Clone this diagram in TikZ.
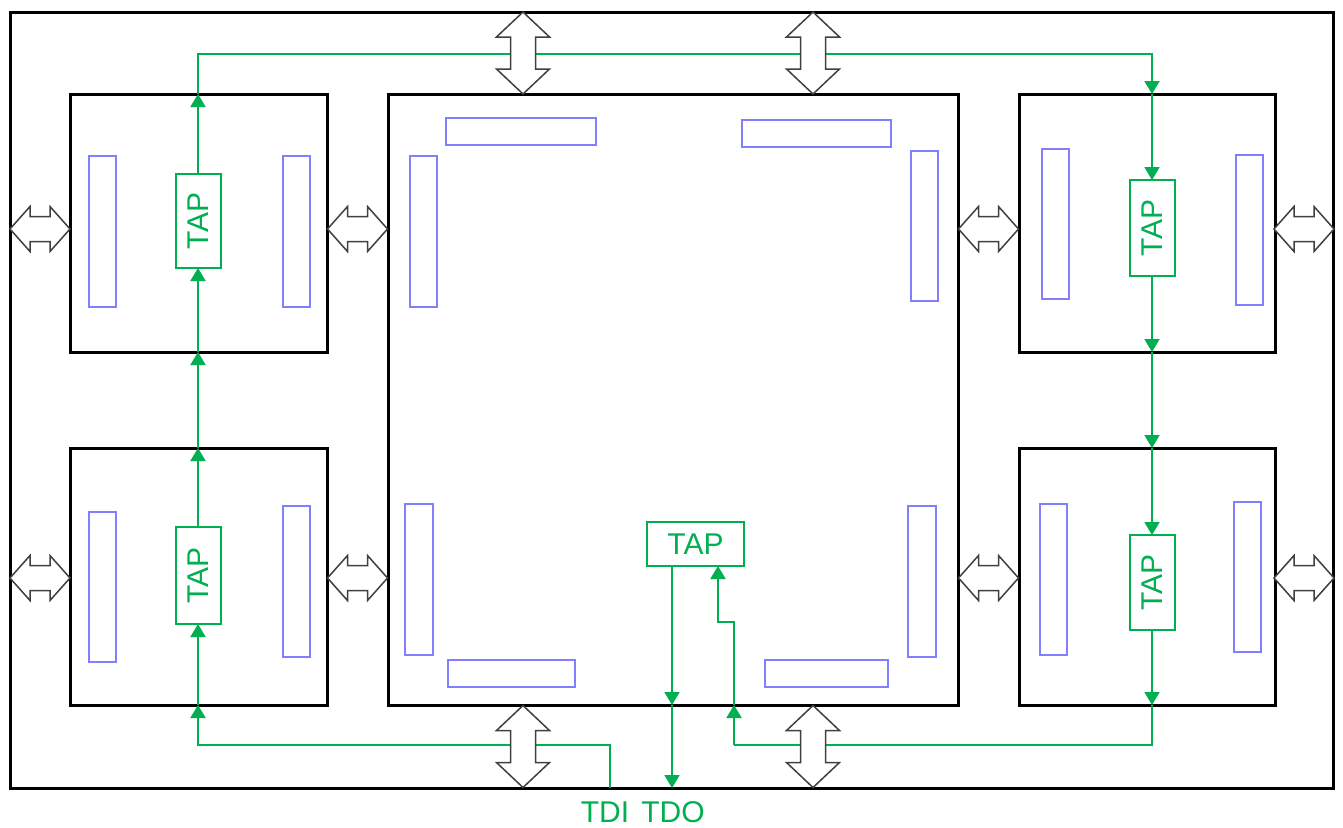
\documentclass[tikz,border=0pt]{standalone}
\usepackage{fontspec}
\setmainfont{Liberation Sans}
\usetikzlibrary{arrows.meta}
\definecolor{grn}{RGB}{0,176,80}
\definecolor{blu}{RGB}{128,128,255}
\definecolor{gry}{RGB}{64,64,64}
\tikzset{
  blk/.style={draw=black, line width=3pt, inner sep=0pt, outer sep=0pt},
  tapbox/.style={draw=grn, line width=2pt, text=grn, font=\fontsize{30}{30}\selectfont, inner sep=0pt, outer sep=0pt},
  lbl/.style={text=grn, font=\fontsize{30}{30}\selectfont, inner sep=0pt},
  bar/.style={draw=blu, line width=1.5pt},
  g/.style={draw=grn, line width=2pt},
  ga/.style={g, -{Triangle[length=13pt,width=15pt]}},
  dbl/.style={draw=gry, line width=1.5pt, fill=white, line join=miter},
  pics/dblv/.style={code={\path[dbl] (0,-41) -- (26.5,-16) -- (12.5,-16) -- (12.5,16) -- (26.5,16) -- (0,41) -- (-26.5,16) -- (-12.5,16) -- (-12.5,-16) -- (-26.5,-16) -- cycle;}},
  pics/dblh/.style={code={\path[dbl] (-30,0) -- (-10,-22.5) -- (-10,-12.5) -- (10,-12.5) -- (10,-22.5) -- (30,0) -- (10,22.5) -- (10,12.5) -- (-10,12.5) -- (-10,22.5) -- cycle;}}
}
\begin{document}
\begin{tikzpicture}[x=1pt, y=-1pt]
\fill[white] (0,0) rectangle (1343,827);
\useasboundingbox (0,0) rectangle (1343,827);

% frame and blocks
\node[blk, minimum width=1323, minimum height=776, anchor=north west] (frame) at (10,12) {};
\node[blk, minimum width=257, minimum height=258, anchor=north west] (tl) at (70,94) {};
\node[blk, minimum width=257, minimum height=257, anchor=north west] (bl) at (70,448) {};
\node[blk, minimum width=570, minimum height=611, anchor=north west] (c) at (388,94) {};
\node[blk, minimum width=256, minimum height=258, anchor=north west] (tr) at (1019,94) {};
\node[blk, minimum width=256, minimum height=257, anchor=north west] (br) at (1019,448) {};

% blue bars
\draw[bar] (89,156) rectangle (116,307);
\draw[bar] (283,156) rectangle (310,307);
\draw[bar] (89,512) rectangle (116,662);
\draw[bar] (283,506) rectangle (310,657);
\draw[bar] (446,118) rectangle (596,145);
\draw[bar] (742,120) rectangle (891,147);
\draw[bar] (410,156) rectangle (437,307);
\draw[bar] (911,151) rectangle (938,301);
\draw[bar] (405,504) rectangle (433,655);
\draw[bar] (908,506) rectangle (936,657);
\draw[bar] (448,660) rectangle (575,687);
\draw[bar] (765,660) rectangle (888,687);
\draw[bar] (1042,149) rectangle (1069,299);
\draw[bar] (1236,155) rectangle (1263,305);
\draw[bar] (1040,504) rectangle (1067,655);
\draw[bar] (1234,502) rectangle (1261,652);

% TAP boxes
\node[tapbox, minimum width=45, minimum height=94] (tapTL) at (198,221) {\rotatebox{90}{TAP}};
\node[tapbox, minimum width=45, minimum height=97] (tapBL) at (198,575.5) {\rotatebox{90}{TAP}};
\node[tapbox, minimum width=45, minimum height=96] (tapTR) at (1152,228) {\rotatebox{90}{TAP}};
\node[tapbox, minimum width=45, minimum height=95] (tapBR) at (1152,582.5) {\rotatebox{90}{TAP}};
\node[tapbox, minimum width=97, minimum height=44] (tapC) at (695.5,544) {TAP};

% labels and free ends
\node[lbl] (tdiL) at (605,812) {TDI};
\node[lbl] (tdoL) at (673,812) {TDO};
\coordinate (tdi) at (610,788);
\coordinate (tdo) at (672,788);
\coordinate (tdiTurn) at (610,745);
\coordinate (topL) at (198,54);
\coordinate (retTurn) at (734,745);
\coordinate (jog) at (734,622);
\coordinate (tapCin) at ([xshift=22.5pt]tapC.south);
\coordinate (tapCout) at ([xshift=-23.5pt]tapC.south);

% scan chain
\draw[ga] (tdi) -- (tdiTurn) -| (tapBL.south |- bl.south);
\draw[ga] (tapBL.south |- bl.south) -- (tapBL.south);
\draw[ga] (tapBL.north) -- (tapBL.north |- bl.north);
\draw[ga] (tapBL.north |- bl.north) -- (tapBL.north |- tl.south);
\draw[ga] (tapBL.north |- tl.south) -- (tapTL.south);
\draw[ga] (tapTL.north) -- (tapTL.north |- tl.north);
\draw[ga] (tapTL.north |- tl.north) -- (topL) -| (tapTR.north |- tr.north);
\draw[ga] (tapTR.north |- tr.north) -- (tapTR.north);
\draw[ga] (tapTR.south) -- (tapTR.south |- tr.south);
\draw[ga] (tapTR.south |- tr.south) -- (tapTR.south |- br.north);
\draw[ga] (tapTR.south |- br.north) -- (tapBR.north);
\draw[ga] (tapBR.south) -- (tapBR.south |- br.south);
\draw[g] (tapBR.south |- br.south) |- (retTurn);
\draw[ga] (retTurn) -- (retTurn |- c.south);
\draw[ga] (retTurn |- c.south) -- (jog) -| (tapCin);
\draw[ga] (tapCout) -- (tapCout |- c.south);
\draw[ga] (tapCout |- c.south) -- (tdo);

% bus arrows
\pic at (523,53) {dblv};
\pic at (813,53) {dblv};
\pic at (523,746.5) {dblv};
\pic at (813,746.5) {dblv};
\pic at (40,229) {dblh};
\pic at (357.5,229) {dblh};
\pic at (40,578) {dblh};
\pic at (357.5,578) {dblh};
\pic at (988.5,229) {dblh};
\pic at (1304,229) {dblh};
\pic at (988.5,578) {dblh};
\pic at (1304,578) {dblh};
\end{tikzpicture}
\end{document}
